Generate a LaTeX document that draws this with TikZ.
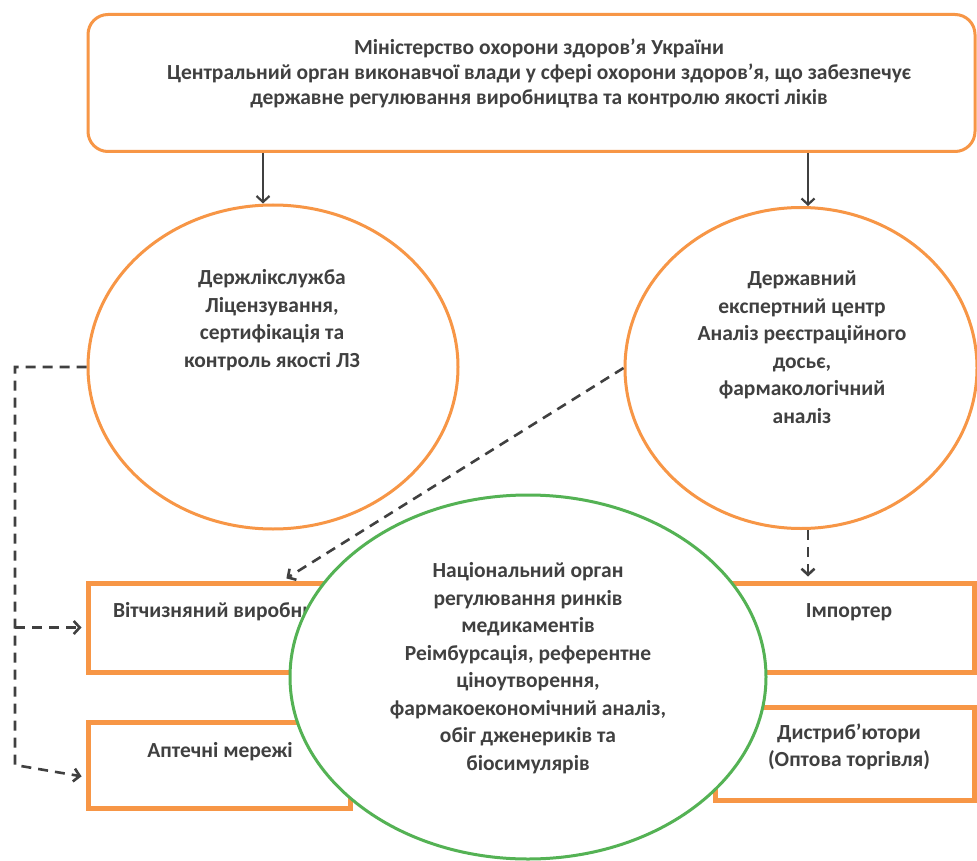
\documentclass[tikz,border=0pt]{standalone}
\usepackage{fontspec}
\setmainfont{Carlito}
\usetikzlibrary{arrows.meta,shapes.geometric}
\definecolor{org}{RGB}{247,150,70}
\definecolor{grn}{RGB}{84,178,84}
\definecolor{txt}{RGB}{64,64,64}
\begin{document}
\begin{tikzpicture}[x=1pt,y=-1pt,
  lbl/.style={font=\fontsize{21.5}{27.5}\selectfont\bfseries, text=txt, align=center, inner sep=0pt},
  oell/.style={draw=org, line width=3pt, ellipse, inner sep=0pt},
  obox/.style={draw=org, line width=5pt, rectangle, inner sep=0pt, fill=white},
  conn/.style={draw=txt, line width=2.2pt, -{Straight Barb[length=6pt,width=13pt]}},
  dconn/.style={draw=txt, line width=2.6pt, dash pattern=on 10pt off 7pt, -{Straight Barb[length=6pt,width=13pt]}, shorten >=4pt}
]
\useasboundingbox (0,0) rectangle (977,861);
\fill[white] (0,0) rectangle (977,861);

% top box
\node[draw=org, line width=3pt, rounded corners=20pt, minimum width=887pt, minimum height=137pt, inner sep=0pt] (moz) at (531.5,83) {};
\node[lbl, font=\fontsize{21.5}{25}\selectfont\bfseries] (mozT) at (539,73) {Міністерство охорони здоров’я України\\Центральний орган виконавчої влади у сфері охорони здоров’я, що забезпечує\\державне регулювання виробництва та контролю якості ліків};

% ellipses
\node[oell, minimum width=370pt, minimum height=324pt] (dls) at (273,367) {};
\node[lbl] (dlsT) at (272,320) {Держлікслужба\\Ліцензування,\\сертифікація та\\контроль якості ЛЗ};
\node[oell, minimum width=352pt, minimum height=321pt] (dec) at (801,368) {};
\node[lbl] (decT) at (802,347) {Державний\\експертний центр\\Аналіз реєстраційного\\досьє,\\фармакологічний\\аналіз};

% arrows from ministry
\coordinate (ax1) at (263,0);
\coordinate (ax2) at (808,0);
\draw[conn] (moz.south -| ax1) -- (dls.north -| ax1);
\draw[conn] (moz.south -| ax2) -- (dec.north -| ax2);

% boxes
\node[obox, minimum width=262pt, minimum height=89pt] (vit) at (219,627.5) {};
\node[lbl, anchor=base] (vitT) at (219,617) {Вітчизняний виробник};
\node[obox, minimum width=262pt, minimum height=86pt] (apt) at (219,765) {};
\node[lbl, anchor=base] (aptT) at (220,757) {Аптечні мережі};
\node[obox, minimum width=259pt, minimum height=89pt] (imp) at (844.5,627.5) {};
\node[lbl, anchor=base] (impT) at (849,617) {Імпортер};
\node[obox, minimum width=259pt, minimum height=93pt] (dis) at (844.5,753.5) {};
\node[lbl] (disT) at (849,747) {Дистриб’ютори\\(Оптова торгівля)};

% dashed connectors
\coordinate (lx) at (15,0);
\draw[dconn] (dls.west) -| (lx |- apt.west) -- ([yshift=-12pt]apt.west);
\draw[dconn] (lx |- vit.west) -- (vit.west);
\draw[dconn] (dec.west) -- ([xshift=64pt]vit.north);
\draw[dconn] (dec.south -| ax2) -- (imp.north -| ax2);

% green circle
\node[draw=grn, line width=3pt, ellipse, fill=white, minimum width=476pt, minimum height=364pt, inner sep=0pt] (nor) at (528,677) {};
\node[lbl] (norT) at (528,668) {Національний орган\\регулювання ринків\\медикаментів\\Реімбурсація, референтне\\ціноутворення,\\фармакоекономічний аналіз,\\обіг дженериків та\\біосимулярів};
\end{tikzpicture}
\end{document}
